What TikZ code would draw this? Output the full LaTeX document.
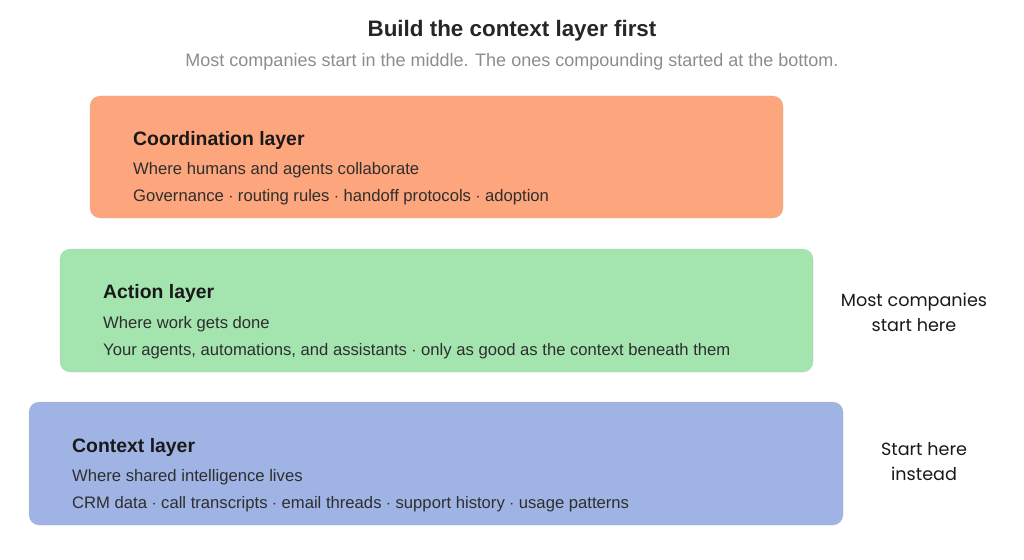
\documentclass[tikz,border=0pt]{standalone}
\usepackage{fontspec}
\setmainfont{Liberation Sans}
\newfontfamily\sidefont{Poppins}
\usetikzlibrary{positioning}

\definecolor{coordfill}{HTML}{FDA57C}
\definecolor{actionfill}{HTML}{A4E4AF}
\definecolor{contextfill}{HTML}{9FB4E4}
\definecolor{bodytext}{HTML}{2E2E2E}
\definecolor{subgray}{HTML}{8C8C8C}

\begin{document}
\begin{tikzpicture}[x=1pt,y=-1pt,
  layer/.style={rectangle,rounded corners=10pt,draw=white!70!black,draw opacity=0.25,line width=0.6pt},
  head/.style={anchor=base west,inner sep=0pt,font=\fontsize{19.4}{22}\selectfont\bfseries,text=black!90},
  info/.style={anchor=base west,inner sep=0pt,font=\fontsize{16.65}{19}\selectfont,text=bodytext},
  side/.style={align=center,inner sep=0pt,font=\sidefont\fontsize{17.6}{24.5}\selectfont,text=black!90}]
\useasboundingbox (0,0) rectangle (1024,559);

% Title
\node[font=\fontsize{22.4}{26}\selectfont\bfseries,text=black!85] (title) at (512,30.5) {Build the context layer first};
\node[font=\fontsize{18}{21}\selectfont,text=subgray] (subtitle) at (512,61.5) {Most companies start in the middle. The ones compounding started at the bottom.};

% Coordination layer
\node[layer,fill=coordfill,minimum width=693pt,minimum height=122pt] (coord) at (436.5,157) {};
\node[head] (coordhead) at (133,145) {Coordination layer};
\node[info] (coordwhere) at (133,174.5) {Where humans and agents collaborate};
\node[info] (coorditems) at (133,201.5) {Governance $\cdot$ routing rules $\cdot$ handoff protocols $\cdot$ adoption};

% Action layer
\node[layer,fill=actionfill,minimum width=753pt,minimum height=123pt] (action) at (436.5,310.5) {};
\node[head] (actionhead) at (103,298) {Action layer};
\node[info] (actionwhere) at (103,328.5) {Where work gets done};
\node[info] (actionitems) at (103,355.5) {Your agents, automations, and assistants $\cdot$ only as good as the context beneath them};

% Context layer
\node[layer,fill=contextfill,minimum width=814pt,minimum height=123pt] (context) at (436,463.5) {};
\node[head] (contexthead) at (72,452) {Context layer};
\node[info] (contextwhere) at (72,481.5) {Where shared intelligence lives};
\node[info] (contextitems) at (72,508.5) {CRM data $\cdot$ call transcripts $\cdot$ email threads $\cdot$ support history $\cdot$ usage patterns};

% Side notes
\node[side] (mostnote) at (914,312.5) {Most companies\\start here};
\node[side] (startnote) at (924,461.5) {Start here\\instead};
\end{tikzpicture}
\end{document}
